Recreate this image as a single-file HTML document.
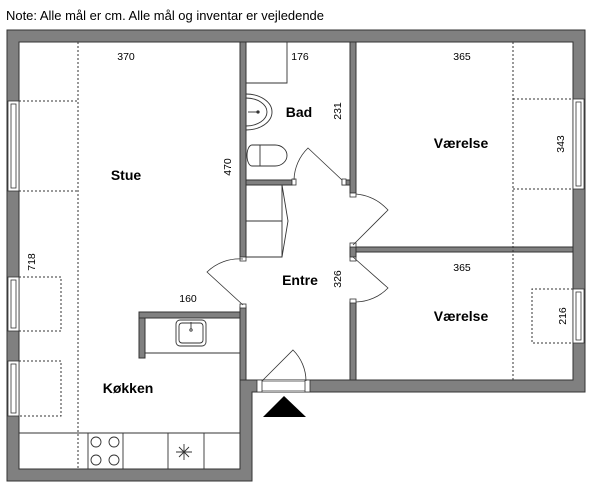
<!DOCTYPE html>
<html><head><meta charset="utf-8"><style>
html,body{margin:0;padding:0;background:#fff;}
svg{display:block;}
text{font-family:"Liberation Sans",sans-serif;fill:#000;}
.b{font-weight:bold;font-size:14px;}
.n{font-size:10.5px;}
</style></head><body>
<svg width="600" height="489" viewBox="0 0 600 489" xmlns="http://www.w3.org/2000/svg">
<text x="6" y="20" style="font-size:13px" textLength="318" lengthAdjust="spacingAndGlyphs">Note: Alle mål er cm. Alle mål og inventar er vejledende</text>
<path d="M7,30H585V392H252V481H7Z M19,42V469H240V380H573V42Z" fill="#808080" fill-rule="evenodd" stroke="#333" stroke-width="1"/>
<g fill="#808080" stroke="#333" stroke-width="1">
<rect x="240" y="42" width="6" height="215"/>
<rect x="246" y="180" width="46" height="5"/>
<rect x="350" y="42" width="6" height="151"/>
<rect x="342" y="180" width="8" height="5"/>
<rect x="356" y="247" width="217" height="5"/>
<rect x="350" y="247" width="6" height="10"/>
<rect x="350" y="302" width="6" height="78"/>
<rect x="240" y="307" width="6" height="73"/>
<rect x="139" y="312" width="101" height="6"/>
<rect x="139" y="318" width="6" height="40"/>
</g>
<g fill="#fff" stroke="#333" stroke-width="0.8">
<rect x="292" y="179" width="4" height="6"/>
<rect x="342" y="179" width="4" height="6"/>
<rect x="350" y="193" width="6" height="4"/>
<rect x="350" y="243" width="6" height="4"/>
<rect x="350" y="257" width="6" height="4"/>
<rect x="350" y="299" width="6" height="4"/>
<rect x="240" y="257" width="6" height="4"/>
<rect x="240" y="304" width="6" height="4"/>
</g>
<rect x="257" y="380" width="52" height="12" fill="#fff"/>
<g fill="#fff" stroke="#333" stroke-width="0.8">
<rect x="257" y="380" width="5" height="12"/>
<rect x="305" y="380" width="5" height="12"/>
<line x1="262" y1="381" x2="305" y2="381"/>
<line x1="262" y1="391" x2="305" y2="391"/>
</g>
<polygon points="284,396 263,417 306,417" fill="#000"/>
<g fill="#fff" stroke="#333" stroke-width="0.8">
<rect x="8" y="101" width="11" height="90"/><rect x="11" y="104" width="5" height="84"/>
<rect x="8" y="277" width="11" height="54"/><rect x="11" y="280" width="5" height="48"/>
<rect x="8" y="361" width="11" height="55"/><rect x="11" y="364" width="5" height="49"/>
<rect x="573" y="99" width="11" height="90"/><rect x="576" y="102" width="5" height="84"/>
<rect x="573" y="289" width="11" height="54"/><rect x="576" y="292" width="5" height="48"/>
</g>
<g fill="none" stroke="#333" stroke-width="1" stroke-dasharray="2,2">
<path d="M78,42V469 M19,101H78 M19,191H78"/>
<path d="M19,277H61V331H19 M19,361H61V416H19"/>
<path d="M513,42V380 M513,99H573 M513,189H573"/>
<path d="M573,289H532V343H573"/>
</g>
<g fill="none" stroke="#333" stroke-width="0.8">
<path d="M342,180 L308,148 A46,46 0 0 0 294,180"/>
<path d="M353,245 L388,210 A50,50 0 0 0 356,194"/>
<path d="M353,257 L388,288 A46,46 0 0 1 356,302"/>
<path d="M243,305 L207,272 A46,46 0 0 1 243,259"/>
<path d="M262,381 L293,350 A44,44 0 0 1 306,381"/>
</g>
<g fill="none" stroke="#333" stroke-width="0.9">
<path d="M246,83H287V42"/>
<path d="M246,94 A26,18 0 0 1 246,130"/>
<path d="M246,98 A21,14 0 0 1 246,126"/>
<circle cx="258" cy="112" r="1.2" fill="#333"/><line x1="248" y1="112" x2="258" y2="112"/>
<path d="M260,145 H275 A12,10.5 0 0 1 275,166 H260 Z"/>
<path d="M260,145 H252 A5,10.5 0 0 0 252,166 H260"/>
<path d="M246,185H282V257H246 M246,221H282"/>
<path d="M282,185 L288,221 L282,257"/>
<path d="M145,353H240"/>
<rect x="176" y="320" width="30" height="26" rx="4"/>
<rect x="179" y="323" width="24" height="20" rx="3"/>
<circle cx="191" cy="330" r="1.2"/><line x1="191" y1="322" x2="191" y2="329"/>
<path d="M19,433H240 M88,433V469 M123,433V469 M168,433V469 M204,433V469"/>
<circle cx="96" cy="442" r="5"/><circle cx="114" cy="442" r="5"/>
<circle cx="96" cy="460" r="5"/><circle cx="114" cy="460" r="5"/>
<path d="M184,444V460 M176,452H192 M179,447L189,457 M189,447L179,457"/>
</g>
<text class="b" x="126" y="180" text-anchor="middle">Stue</text>
<text class="b" x="299" y="117" text-anchor="middle">Bad</text>
<text class="b" x="461" y="148" text-anchor="middle">Værelse</text>
<text class="b" x="461" y="321" text-anchor="middle">Værelse</text>
<text class="b" x="300" y="285" text-anchor="middle">Entre</text>
<text class="b" x="128" y="393" text-anchor="middle">Køkken</text>
<text class="n" x="126" y="60" text-anchor="middle">370</text>
<text class="n" x="300" y="60" text-anchor="middle">176</text>
<text class="n" x="462" y="60" text-anchor="middle">365</text>
<text class="n" x="462" y="271" text-anchor="middle">365</text>
<text class="n" x="188" y="302" text-anchor="middle">160</text>
<text class="n" transform="translate(231,167) rotate(-90)" text-anchor="middle">470</text>
<text class="n" transform="translate(341,111) rotate(-90)" text-anchor="middle">231</text>
<text class="n" transform="translate(564,144) rotate(-90)" text-anchor="middle">343</text>
<text class="n" transform="translate(341,279) rotate(-90)" text-anchor="middle">326</text>
<text class="n" transform="translate(35,262) rotate(-90)" text-anchor="middle">718</text>
<text class="n" transform="translate(566,316) rotate(-90)" text-anchor="middle">216</text>
</svg>
</body></html>
